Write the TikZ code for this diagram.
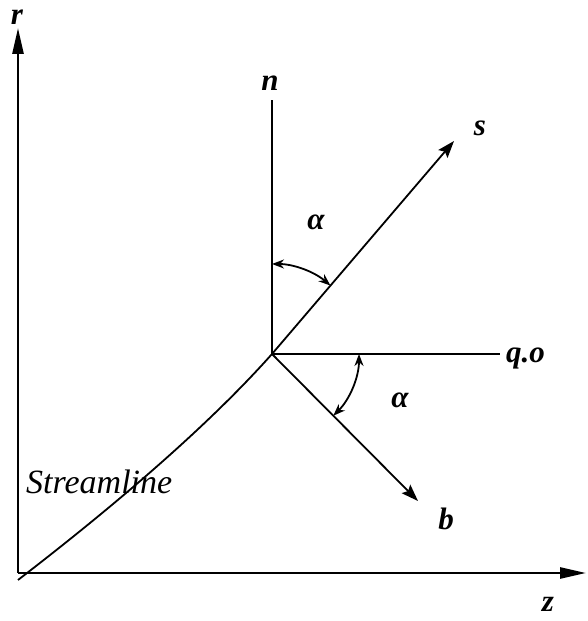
\documentclass[tikz,border=0pt]{standalone}
\usepackage{fontspec}
\setmainfont{Liberation Serif}
\usetikzlibrary{arrows.meta}
\tikzset{
  axis/.style={line width=2.6pt,-{Triangle[length=26pt,width=11pt]}},
  vec/.style={line width=1.8pt,-{Stealth[length=17pt,width=12pt,inset=3pt]}},
  plain/.style={line width=1.8pt},
  ang/.style={line width=1.8pt,{Stealth[length=12pt,width=9pt]}-{Stealth[length=12pt,width=9pt]}},
  lbl/.style={font=\fontsize{31}{36}\selectfont\bfseries\itshape,inner sep=0pt},
  note/.style={font=\fontsize{34}{40}\selectfont\itshape,inner sep=0pt}
}

\begin{document}
\begin{tikzpicture}[x=1pt,y=1pt]
  \useasboundingbox (0,0) rectangle (587,621);
  \coordinate (corner) at (18,48);
  \coordinate (rtip) at (18,593);
  \coordinate (ztip) at (586,48);
  \coordinate (start) at (18,41);
  \coordinate (O) at (272,267);
  \coordinate (ntop) at (272,521);
  \coordinate (stip) at (454,480);
  \coordinate (qend) at (500,267);
  \coordinate (btip) at (418,120);

  \draw[axis] (corner) -- (rtip);
  \draw[axis] (corner) -- (ztip);
  \node[lbl] (r) at (17,604) {r};
  \node[lbl] (z) at (548,17) {z};

  % streamline through O, continued as s
  \draw[vec] (start) .. controls (131,128) and (215,203) .. (O) -- (stip);
  \draw[plain] (O) -- (ntop);
  \draw[plain] (O) -- (qend);
  \draw[vec] (O) -- (btip);

  \draw[ang] ([shift={(90:90)}]O) arc (90:49.5:90);
  \draw[ang] ([shift={(0:87)}]O) arc (0:-45.2:87);

  \node[lbl] (n) at (270,538) {n};
  \node[lbl] (s) at (480,493) {s};
  \node[lbl,anchor=west] (q) at (506,263) {q.o};
  \node[lbl] (b) at (446,102) {b};
  \node[lbl] (a1) at (316,399) {α};
  \node[lbl] (a2) at (400,221) {α};
  \node[note,anchor=base west] (sl) at (26,127) {Streamline};
\end{tikzpicture}
\end{document}
